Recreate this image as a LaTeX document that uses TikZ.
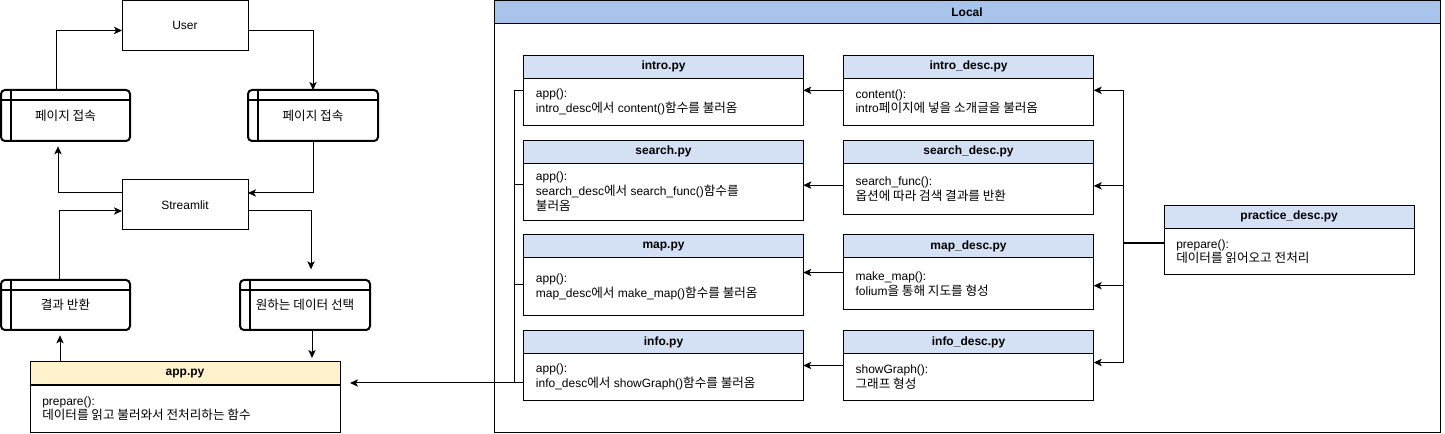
\documentclass[tikz,border=0pt]{standalone}
\usepackage{fontspec}
\setmainfont{Liberation Sans}
\newfontfamily\kr[Scale=1.05]{Noto Sans CJK KR}
\usetikzlibrary{calc,arrows.meta}
\definecolor{hdrblue}{HTML}{D4E1F5}
\definecolor{locblue}{HTML}{A9C4EB}
\definecolor{hdryel}{HTML}{FFF2CC}
\tikzset{
  plainbox/.style={draw, line width=0.75pt, inner sep=0pt, outer sep=0pt, anchor=north west},
  stobox/.style={draw, line width=1.5pt, rounded corners=3pt, inner sep=0pt, outer sep=0pt, anchor=north west},
  conn/.style={line width=0.75pt},
  arr/.style={line width=0.75pt, -{Stealth[length=6pt,width=5.5pt,inset=1.5pt]}},
  boldline/.style={line width=1.6pt},
  titletext/.style={font=\fontsize{9}{11}\selectfont\bfseries},
  bodytext/.style={anchor=west, align=left, inner sep=0pt, font=\fontsize{9}{11}\selectfont}
}
% name, x, y, w, h, text
\newcommand\storagebox[6]{%
  \node[stobox, minimum width=#4*0.75pt, minimum height=#5*0.75pt] (#1) at (#2,#3) {};
  \draw[line width=1.5pt] ($(#1.north west)+(10,0)$) -- ($(#1.south west)+(10,0)$);
  \draw[line width=1.5pt] ($(#1.north west)+(0,10)$) -- ($(#1.north east)+(0,10)$);
  \node[font=\fontsize{9}{11}\selectfont] at ($(#1.center)+(0,0)$) {#6};
}
% name, x, y, w, h, fill, title, body
\newcommand\classbox[8]{%
  \node[plainbox, fill=white, minimum width=#4*0.75pt, minimum height=#5*0.75pt] (#1) at (#2,#3) {};
  \draw[line width=0.75pt, fill=#6] (#1.north west) rectangle ($(#1.north east)+(0,23)$);
  \node[titletext] at ($(#1.north)+(0,11.5)$) {#7};
  \node[bodytext] at ($(#1.west)+(12,11.5)$) {#8};
}
\begin{document}
\begin{tikzpicture}[x=0.75pt,y=-0.75pt]
\useasboundingbox (0,0) rectangle (1445,434);
\fill[white] (0,0) rectangle (1445,434);

% ---------- left part ----------
\node[plainbox, minimum width=126*0.75pt, minimum height=50*0.75pt, font=\fontsize{9}{11}\selectfont] (user) at (122,0.5) {};
\node[font=\fontsize{9}{11}\selectfont] at (user.center) {User};
\node[plainbox, minimum width=126*0.75pt, minimum height=50*0.75pt] (stream) at (122,180) {};
\node[font=\fontsize{9}{11}\selectfont] at (stream.center) {Streamlit};

\storagebox{pgL}{1}{90}{129}{51}{{\kr 페이지 접속}}
\storagebox{pgR}{248}{90}{130}{51}{{\kr 페이지 접속}}
\storagebox{res}{1}{280}{129}{50}{{\kr 결과 반환}}
\storagebox{sel}{240}{280}{130}{50}{{\kr 원하는 데이터 선택}}

\classbox{app}{30}{362}{310}{70}{hdryel}{app.py}{prepare():\\{\kr 데이터를 읽고 불러와서 전처리하는 함수}}

\draw[arr] ($(pgL.north west)+(55,0)$) |- ($(user.north west)+(0,30)$);
\draw[arr] ($(user.north east)+(0,30)$) -| (pgR.north);
\draw[arr] (pgR.south) |- ($(stream.north east)+(0,13)$);
\draw[arr, shorten >=4pt] ($(stream.north west)+(0,13)$) -| ($(pgL.south west)+(57,0)$);
\draw[arr] ($(res.north west)+(58,0)$) |- ($(stream.north west)+(0,31)$);
\draw[arr, shorten >=8pt] ($(stream.north east)+(0,31)$) -| ($(sel.north west)+(71,0)$);
\draw[arr, shorten >=3pt] ($(sel.south west)+(72,0)$) -- ($(app.north west)+(282,0)$);
\draw[arr, shorten >=4pt] ($(app.north west)+(30,0)$) -- ($(res.south west)+(59,0)$);

% ---------- Local container ----------
\node[plainbox, minimum width=946*0.75pt, minimum height=431.5*0.75pt] (local) at (494,0.5) {};
\draw[line width=0.75pt, fill=locblue] (local.north west) rectangle ($(local.north east)+(0,23)$);
\node[titletext] at ($(local.north)+(0,11.5)$) {Local};

\classbox{intro}{523.7}{55.3}{279.6}{70}{hdrblue}{intro.py}{app():\\intro\_desc{\kr 에서} content(){\kr 함수를 불러옴}}
\classbox{search}{523.7}{140.3}{279.6}{80}{hdrblue}{search.py}{app():\\search\_desc{\kr 에서} search\_func(){\kr 함수를}\\{\kr 불러옴}}
\classbox{map}{523.7}{235}{279.6}{80.3}{hdrblue}{map.py}{app():\\map\_desc{\kr 에서} make\_map(){\kr 함수를 불러옴}}
\classbox{info}{523.7}{330.7}{279.6}{69.6}{hdrblue}{info.py}{app():\\info\_desc{\kr 에서} showGraph(){\kr 함수를 불러옴}}

\classbox{introdesc}{843.3}{55.3}{250.4}{70}{hdrblue}{intro\_desc.py}{content():\\intro{\kr 페이지에 넣을 소개글을 불러옴}}
\classbox{searchdesc}{843.3}{140.3}{250.4}{74.7}{hdrblue}{search\_desc.py}{search\_func():\\{\kr 옵션에 따라 검색 결과를 반환}}
\classbox{mapdesc}{843.3}{235}{250.4}{75}{hdrblue}{map\_desc.py}{make\_map():\\folium{\kr 을 통해 지도를 형성}}
\classbox{infodesc}{843.3}{330.7}{250.4}{69.6}{hdrblue}{info\_desc.py}{showGraph():\\{\kr 그래프 형성}}

\classbox{practice}{1164}{205.3}{250.3}{69.4}{hdrblue}{practice\_desc.py}{prepare():\\{\kr 데이터를 읽어오고 전처리}}

% desc -> py
\draw[arr] (introdesc.west) -- (intro.east |- introdesc.west);
\draw[arr] ($(searchdesc.west)+(0,7.5)$) -- (search.east |- {$(searchdesc.west)+(0,7.5)$});
\draw[arr] (mapdesc.west) -- (map.east |- mapdesc.west);
\draw[arr] (infodesc.west) -- (info.east |- infodesc.west);

% right bus from practice_desc
\coordinate (rb) at (1123,242.7);
\draw[boldline] (practice.west |- rb) -- (rb);
\draw[arr] (rb) |- (introdesc.east);
\draw[arr] (rb) |- ($(searchdesc.east)+(0,8.2)$);
\draw[arr] (rb) |- ($(mapdesc.east)+(0,13.2)$);
\draw[arr] (rb) |- ($(infodesc.east)+(0,-3)$);

% left bus to app.py
\coordinate (lb) at (514,383);
\draw[conn] (intro.west) -| (lb);
\draw[conn] ($(search.west)+(0,4)$) -- (lb |- {$(search.west)+(0,4)$});
\draw[conn] ($(map.west)+(0,9)$) -- (lb |- {$(map.west)+(0,9)$});
\draw[conn] (info.west |- lb) -- (lb);
\draw[arr, shorten >=7.5pt] (lb) -- (app.east |- lb);
\end{tikzpicture}
\end{document}
